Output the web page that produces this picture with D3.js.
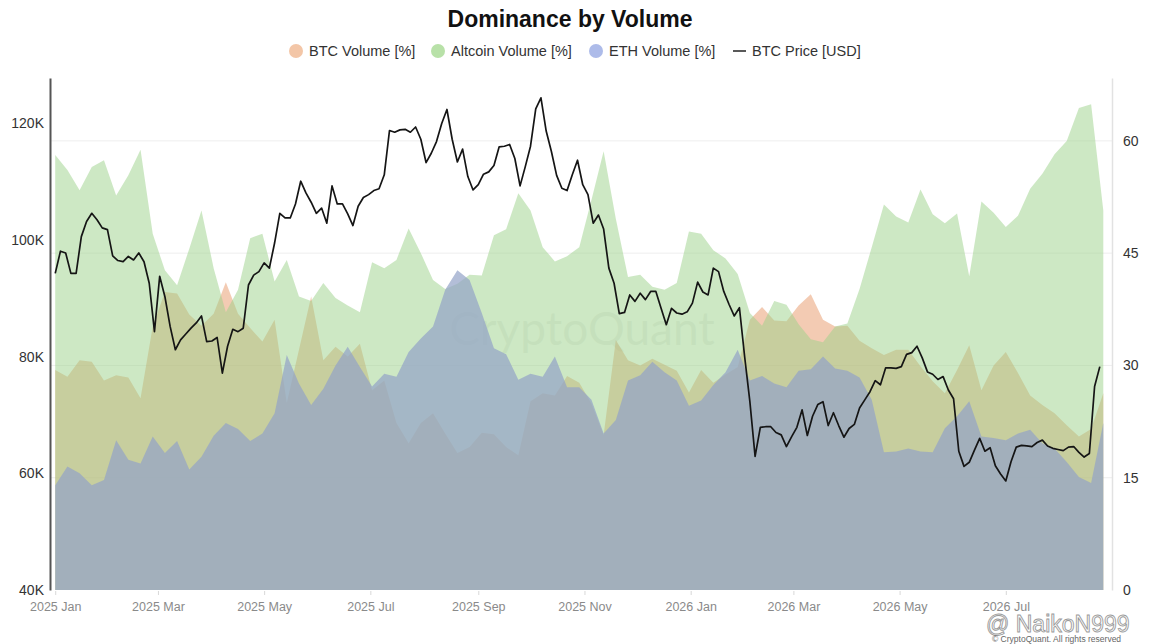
<!DOCTYPE html>
<html>
<head>
<meta charset="utf-8">
<script src="https://d3js.org/d3.v7.min.js"></script>
<style>
  body { margin: 0; background: #fff; }
  svg { display: block; font-family: "Liberation Sans", Arial, sans-serif; }
</style>
</head>
<body>
<div id="chart"></div>
<script>
// volume shares (%), one value per week from areaStart
const areaStart = "2025-01-01";
const areaStepDays = 7;

const altcoinVolume = [
  58.1, 56.1, 53.4, 56.5, 57.4, 52.7, 55.4, 58.8, 47.6, 42.7, 40.7, 45.6, 50.7, 43.0, 37.1, 40.1, 47.0, 47.6,
  41.2, 44.1, 39.2, 38.6, 41.0, 39.0, 38.0, 37.1, 43.8, 43.0, 44.1, 48.3, 45.0, 41.4, 40.2, 40.9, 42.1, 42.0,
  47.4, 48.2, 53.0, 50.7, 45.8, 43.9, 44.6, 45.8, 52.1, 58.6, 49.6, 41.8, 42.1, 40.5, 40.1, 41.0, 47.9, 47.6,
  45.4, 44.3, 42.2, 37.0, 35.3, 38.6, 38.1, 35.5, 33.5, 33.1, 35.2, 35.6, 40.2, 45.8, 51.5, 49.9, 49.1,
  53.5, 50.2, 49.0, 50.3, 41.9, 51.9, 50.4, 48.5, 50.0, 53.6, 55.6, 58.2, 60.0, 64.4, 64.9, 50.7
];

const btcVolume = [
  29.4, 28.5, 30.7, 30.5, 28.0, 28.7, 28.4, 25.6, 35.2, 39.8, 39.6, 36.8, 35.3, 36.9, 41.1, 36.9, 35.0, 33.2,
  36.1, 25.0, 32.1, 39.2, 30.7, 32.5, 31.2, 32.9, 26.7, 28.0, 22.3, 19.6, 22.3, 23.6, 20.9, 18.3, 19.1, 21.0,
  20.8, 19.1, 18.0, 25.2, 26.3, 26.0, 28.6, 27.7, 24.9, 20.7, 33.4, 30.7, 30.0, 30.9, 30.1, 29.3, 26.4, 29.4,
  27.7, 28.8, 29.8, 36.1, 37.8, 36.0, 35.9, 38.0, 39.5, 36.1, 35.2, 35.3, 33.3, 32.3, 31.4, 32.1, 32.1,
  29.9, 27.9, 26.3, 29.4, 32.7, 26.7, 30.0, 31.8, 29.0, 26.0, 24.7, 23.6, 22.0, 20.5, 21.5, 26.3
];

const ethVolume = [
  14.0, 16.5, 15.6, 14.0, 14.7, 20.0, 17.4, 16.9, 20.5, 18.3, 19.9, 16.1, 17.8, 20.6, 22.3, 21.5, 19.9, 20.9,
  23.6, 31.4, 27.6, 24.7, 26.9, 30.0, 32.5, 29.8, 27.2, 28.9, 28.5, 31.8, 33.6, 35.2, 40.1, 42.7, 41.4, 37.0,
  32.3, 31.5, 28.1, 28.9, 28.5, 31.2, 27.1, 27.1, 25.4, 20.9, 22.7, 28.0, 28.7, 30.5, 29.1, 28.0, 24.6, 25.3,
  27.4, 29.1, 32.1, 28.0, 28.6, 27.6, 27.1, 29.3, 29.5, 31.2, 29.6, 29.3, 28.4, 25.4, 18.4, 18.5, 18.9,
  18.5, 18.4, 21.6, 23.2, 25.2, 20.5, 20.3, 20.0, 20.9, 21.4, 19.6, 18.9, 17.1, 15.1, 14.3, 22.3
];

// BTC price in thousand USD, one value every 3 days from priceStart
const priceStart = "2025-01-01";
const priceStepDays = 3;
const btcPriceK = [
  94.3, 98.1, 97.8, 94.3, 94.3, 100.6, 103.2, 104.6, 103.5, 102.1, 101.8, 97.3, 96.5, 96.3, 97.2, 96.6, 97.8, 96.3,
  92.6, 84.3, 93.8, 90.3, 85.2, 81.2, 82.9, 83.9, 84.9, 85.8, 87.0, 82.6, 82.7, 83.3, 77.2, 81.8, 84.7, 84.3,
  84.9, 92.3, 94.0, 94.6, 96.1, 95.2,
  99.5, 104.6, 103.8, 103.8, 106.2, 110.1, 108.1, 106.5, 104.6, 105.5, 102.9, 109.3, 106.2, 106.2, 104.5, 102.5,
  105.8, 107.3, 107.8, 108.5, 108.8, 111.2, 118.8, 118.5, 118.9, 119.0, 118.5, 119.4, 117.3, 113.3, 114.9, 116.9,
  120.0, 122.4, 117.3, 113.4, 115.6, 110.9, 108.6, 109.5, 111.3,
  111.7, 112.8, 116.0, 116.1, 116.4, 114.0, 109.3, 112.6, 116.1, 122.5, 124.4, 118.7, 115.2, 111.1, 108.9, 108.5,
  111.2, 113.7, 109.5, 107.8, 102.9, 104.3, 101.9, 95.2, 92.6, 87.4, 87.6, 90.6, 89.5, 90.9, 89.8, 91.2, 91.2,
  88.3, 85.5, 88.3, 87.5, 87.3, 87.7, 89.2, 92.8,
  91.1, 90.6, 95.2, 94.6, 91.2, 89.0, 87.0, 88.4, 80.0, 72.3, 62.9, 67.9, 68.0, 68.0, 67.0, 66.6, 64.6, 66.3,
  67.9, 70.9, 66.5, 69.8, 71.8, 72.3, 68.2, 70.4, 68.2, 66.2, 67.7, 68.4, 71.2, 72.6, 74.0, 75.9, 75.2, 78.1,
  78.1, 78.0, 78.3, 80.4, 80.7,
  81.8, 79.8, 77.4, 77.0, 76.1, 76.6, 74.3, 72.8, 63.8, 61.2, 61.9, 64.0, 66.0, 63.8, 64.4, 61.3, 59.9, 58.7,
  62.0, 64.5, 64.8, 64.7, 64.6, 65.3, 65.7, 64.7, 64.3, 64.1, 63.9, 64.5, 64.6, 63.6, 62.8, 63.4, 74.9, 78.3
];

const leftTicks = [40000, 60000, 80000, 100000, 120000];
const rightTicks = [0, 15, 30, 45, 60];
const monthTicks = ["2025-01-01", "2025-03-01", "2025-05-01", "2025-07-01", "2025-09-01",
                    "2025-11-01", "2026-01-01", "2026-03-01", "2026-05-01", "2026-07-01"];

const legendItems = [
  { label: "BTC Volume [%]", color: "#f3c6a7", type: "dot", x: 296 },
  { label: "Altcoin Volume [%]", color: "#b8e1a8", type: "dot", x: 438 },
  { label: "ETH Volume [%]", color: "#adbbe9", type: "dot", x: 596 },
  { label: "BTC Price [USD]", color: "#222", type: "line", x: 733 }
];

const W = 1156, H = 644;
const plot = { left: 50, right: 1112, top: 78, bottom: 590 };

const parseDay = d3.utcParse("%Y-%m-%d");
const areaDates = altcoinVolume.map((_, i) => d3.utcDay.offset(parseDay(areaStart), i * areaStepDays));
const priceDates = btcPriceK.map((_, i) => d3.utcDay.offset(parseDay(priceStart), i * priceStepDays));

const svg = d3.select("#chart").append("svg")
  .attr("width", W).attr("height", H);

const x = d3.scaleUtc()
  .domain([parseDay("2024-12-29"), parseDay("2026-08-31")])
  .range([plot.left, plot.right]);
const yPrice = d3.scaleLinear().domain([40000, 127800]).range([plot.bottom, plot.top]);
const yPct = d3.scaleLinear().domain([0, 68.4]).range([plot.bottom, plot.top]);

// faint grid on the percent ticks
svg.append("g").selectAll("line")
  .data(rightTicks.filter(d => d > 0))
  .join("line")
  .attr("x1", plot.left).attr("x2", plot.right)
  .attr("y1", d => yPct(d)).attr("y2", d => yPct(d))
  .attr("stroke", "#eeeeee");

// watermark in the middle
svg.append("text")
  .attr("x", 582).attr("y", 345)
  .attr("text-anchor", "middle")
  .attr("font-size", 46)
  .attr("font-family", "Lato, 'Liberation Sans', sans-serif")
  .attr("fill", "#7a7a7a")
  .attr("opacity", 0.12)
  .text("CryptoQuant");

const area = d3.area()
  .x(d => x(d.date))
  .y0(yPct(0))
  .y1(d => yPct(d.v));

const series = [
  { name: "btc", values: btcVolume, fill: "#e79767", opacity: 0.5 },
  { name: "alt", values: altcoinVolume, fill: "#9bd189", opacity: 0.5 },
  { name: "eth", values: ethVolume, fill: "#93a3c8", opacity: 0.7 }
];

series.forEach(s => {
  svg.append("path")
    .datum(s.values.map((v, i) => ({ date: areaDates[i], v })))
    .attr("d", area)
    .attr("fill", s.fill)
    .attr("fill-opacity", s.opacity);
});

const priceLine = d3.line()
  .x(d => x(d.date))
  .y(d => yPrice(d.v));

svg.append("path")
  .datum(btcPriceK.map((v, i) => ({ date: priceDates[i], v: v * 1000 })))
  .attr("d", priceLine)
  .attr("fill", "none")
  .attr("stroke", "#151515")
  .attr("stroke-width", 1.7)
  .attr("stroke-linejoin", "round");

// axes
const gLeft = svg.append("g")
  .attr("transform", `translate(${plot.left},0)`)
  .call(d3.axisLeft(yPrice).tickValues(leftTicks).tickSize(0).tickPadding(6)
    .tickFormat(d => d / 1000 + "K"));
gLeft.select(".domain").attr("stroke", "#555").attr("stroke-width", 2);
gLeft.selectAll("text").attr("font-size", 14).attr("fill", "#333")
  .attr("font-family", "Liberation Sans, Arial, sans-serif");

const gRight = svg.append("g")
  .attr("transform", `translate(${plot.right},0)`)
  .call(d3.axisRight(yPct).tickValues(rightTicks).tickSize(0).tickPadding(11));
gRight.select(".domain").attr("stroke", "#e2e2e2").attr("stroke-width", 1.5);
gRight.selectAll("text").attr("font-size", 14).attr("fill", "#333")
  .attr("font-family", "Liberation Sans, Arial, sans-serif");

const gBottom = svg.append("g")
  .attr("transform", `translate(0,${plot.bottom + 1})`)
  .call(d3.axisBottom(x).tickValues(monthTicks.map(parseDay))
    .tickFormat(d3.utcFormat("%Y %b")).tickSize(4).tickPadding(7));
gBottom.select(".domain").remove();
gBottom.selectAll("line").attr("stroke", "#d8d8d8");
gBottom.selectAll("text").attr("font-size", 12.5).attr("fill", "#8a8a8a")
  .attr("font-family", "Liberation Sans, Arial, sans-serif");

// title and legend
svg.append("text")
  .attr("x", 570).attr("y", 27)
  .attr("text-anchor", "middle")
  .attr("font-size", 23)
  .attr("font-weight", "bold")
  .attr("fill", "#111")
  .text("Dominance by Volume");

const legend = svg.append("g").attr("transform", "translate(0,51)");
legendItems.forEach(item => {
  if (item.type === "dot") {
    legend.append("circle").attr("cx", item.x).attr("cy", 0).attr("r", 7).attr("fill", item.color);
    legend.append("text").attr("x", item.x + 13).attr("y", 0).attr("dy", "0.35em")
      .attr("font-size", 14.5).attr("fill", "#333").text(item.label);
  } else {
    legend.append("line").attr("x1", item.x).attr("x2", item.x + 13)
      .attr("y1", 0).attr("y2", 0).attr("stroke", item.color).attr("stroke-width", 1.5);
    legend.append("text").attr("x", item.x + 19).attr("y", 0).attr("dy", "0.35em")
      .attr("font-size", 14.5).attr("fill", "#333").text(item.label);
  }
});

// corner marks from the screenshot
svg.append("text")
  .attr("x", 986).attr("y", 632)
  .attr("font-size", 23)
  .attr("fill", "#fff")
  .attr("stroke", "#9a9a9a")
  .attr("stroke-width", 0.9)
  .text("@ NaikoN999");
svg.append("text")
  .attr("x", 992).attr("y", 642)
  .attr("font-size", 8.5)
  .attr("fill", "#666")
  .text("© CryptoQuant. All rights reserved");
</script>
</body>
</html>
